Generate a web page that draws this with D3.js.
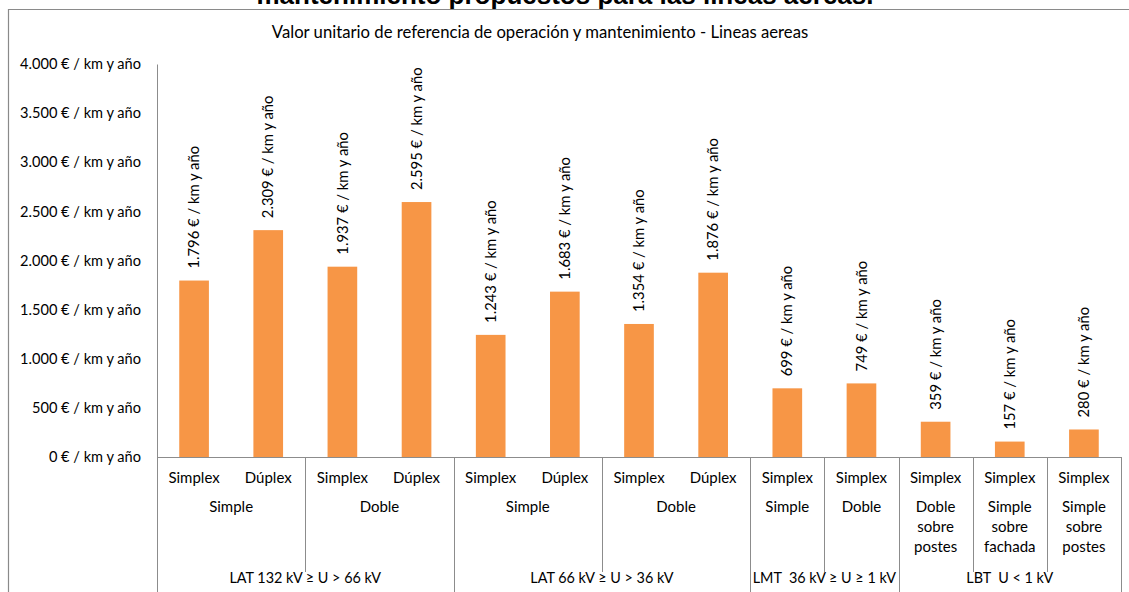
<!DOCTYPE html>
<html><head><meta charset="utf-8">
<script src="https://cdn.jsdelivr.net/npm/d3@7"></script>
<style>
html,body{margin:0;padding:0;background:#fff;}
svg{display:block;}
</style></head>
<body>
<svg id="chart" width="1129" height="592"></svg>
<script>
const mainTitle = "mantenimiento propuestos para las líneas aéreas.";
const subTitle = "Valor unitario de referencia de operación y mantenimiento - Lineas aereas";
const level1 = ["Simplex","Dúplex","Simplex","Dúplex","Simplex","Dúplex","Simplex","Dúplex","Simplex","Simplex","Simplex","Simplex","Simplex"];
const values = [1796, 2309, 1937, 2595, 1243, 1683, 1354, 1876, 699, 749, 359, 157, 280];
const level2Labels = [["Simple"],["Doble"],["Simple"],["Doble"],["Simple"],["Doble"],["Doble","sobre","postes"],["Simple","sobre","fachada"],["Simple","sobre","postes"]];
const level2Spans = [2,2,2,2,1,1,1,1,1];
const level3Labels = ["LAT 132 kV ≥ U > 66 kV","LAT 66 kV ≥ U > 36 kV","LMT  36 kV ≥ U ≥ 1 kV","LBT  U < 1 kV"];
const level3Spans = [4,4,2,3];
const yTicks = [0,500,1000,1500,2000,2500,3000,3500,4000];

const loc = d3.formatLocale({decimal:",", thousands:".", grouping:[3], currency:["","€"]});
const fmt = v => loc.format(",")(v) + " € / km y año";

const svg = d3.select("#chart");
const font = "Lato, 'Open Sans', sans-serif";
const axisColor = "#8c8c8c";

const x = d3.scaleBand().domain(d3.range(values.length)).range([157,1121]).paddingInner(0.6).paddingOuter(0.3);
const y = d3.scaleLinear().domain([0,4000]).range([457,64]);
const step = x.step();
const x0 = 157;
const bx = i => x0 + i*step; // boundary

// outer border
svg.append("path").attr("d","M8.5,600 V9.5 H1140").attr("fill","none").attr("stroke","#8a8a8a").attr("stroke-width",1.2);

// main title (cut off at top, as in the reference)
svg.append("text").attr("x",565).attr("y",4).attr("text-anchor","middle")
  .attr("font-family","'Liberation Sans', Arial, sans-serif").attr("font-weight","bold").attr("font-size",26)
  .attr("fill","#000").text(mainTitle);

// subtitle
svg.append("text").attr("x",540).attr("y",38).attr("text-anchor","middle")
  .attr("font-family",font).attr("font-size",16.7).attr("fill","#000").text(subTitle);

// y axis
const yAxis = d3.axisLeft(y).tickValues(yTicks).tickSize(0).tickPadding(16).tickFormat(fmt);
const gy = svg.append("g").attr("transform","translate(157,0)").call(yAxis);
gy.select(".domain").attr("stroke",axisColor);
gy.selectAll("text").attr("font-family",font).attr("font-size",14.6).attr("fill","#000");

// bars
svg.append("g").selectAll("rect").data(values).join("rect")
  .attr("x",(d,i)=>x(i)).attr("width",x.bandwidth())
  .attr("y",d=>y(d)).attr("height",d=>y(0)-y(d)).attr("fill","#F79646");

// value labels
svg.append("g").selectAll("text").data(values).join("text")
  .attr("transform",(d,i)=>`translate(${x(i)+x.bandwidth()/2},${y(d)-12}) rotate(-90)`)
  .attr("dy","0.35em").attr("text-anchor","start")
  .attr("font-family",font).attr("font-size",14.8).attr("fill","#000").text(fmt);

// x axis line
svg.append("line").attr("x1",157).attr("x2",1121).attr("y1",457.5).attr("y2",457.5).attr("stroke",axisColor);

// level 1 labels
svg.append("g").selectAll("text").data(level1).join("text")
  .attr("x",(d,i)=>x(i)+x.bandwidth()/2).attr("y",478).attr("dy","0.35em").attr("text-anchor","middle")
  .attr("font-family",font).attr("font-size",15).attr("fill","#000").text(d=>d);

// level 2 groups
let acc = 0;
const l2 = level2Spans.map((s,k)=>{const o={start:acc,end:acc+s,lines:level2Labels[k]}; acc+=s; return o;});
acc = 0;
const l3 = level3Spans.map((s,k)=>{const o={start:acc,end:acc+s,label:level3Labels[k]}; acc+=s; return o;});
const l3Bounds = new Set(l3.flatMap(g=>[g.start,g.end]));

const g2 = svg.append("g");
l2.forEach(g=>{
  const cx = (bx(g.start)+bx(g.end))/2;
  const t = g2.append("text").attr("text-anchor","middle").attr("font-family",font).attr("font-size",15).attr("fill","#000");
  g.lines.forEach((ln,j)=>t.append("tspan").attr("x",cx).attr("y",507+j*20).attr("dy","0.35em").text(ln));
  if(!l3Bounds.has(g.end)){
    g2.append("line").attr("x1",Math.round(bx(g.end))+0.5).attr("x2",Math.round(bx(g.end))+0.5).attr("y1",457).attr("y2",572).attr("stroke",axisColor);
  }
});

// level 3 groups
const g3 = svg.append("g");
l3.forEach(g=>{
  const cx = (bx(g.start)+bx(g.end))/2;
  g3.append("text").attr("x",cx).attr("y",578).attr("dy","0.35em").attr("text-anchor","middle")
    .attr("font-family",font).attr("font-size",14.4).attr("fill","#000").style("white-space","pre").text(g.label);
});
[...l3Bounds].forEach(b=>{
  g3.append("line").attr("x1",Math.round(bx(b))+0.5).attr("x2",Math.round(bx(b))+0.5).attr("y1",457).attr("y2",600).attr("stroke",axisColor);
});
</script>
</body></html>
